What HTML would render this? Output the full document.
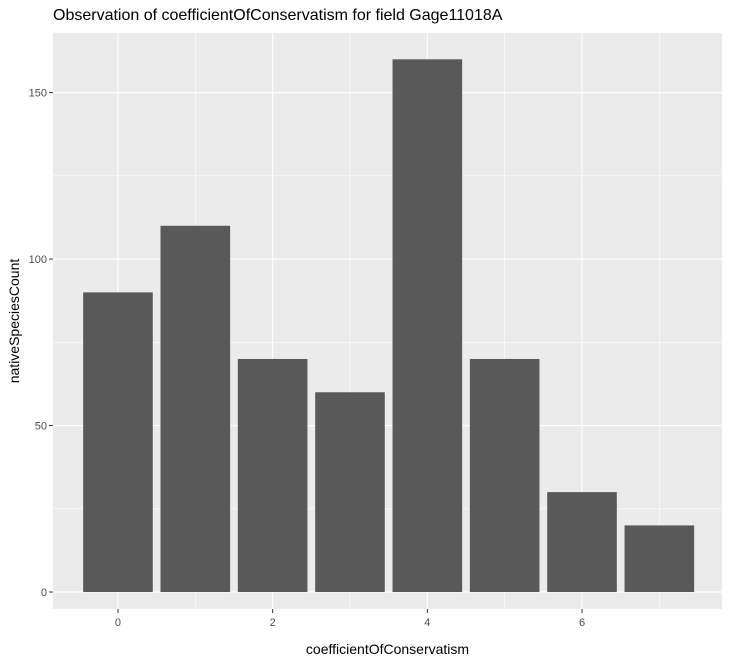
<!DOCTYPE html>
<html><head><meta charset="utf-8"><style>
body{margin:0;background:#fff;font-family:"Liberation Sans",Arial,sans-serif}
</style></head><body>
<svg id="c" width="733" height="664" xmlns="http://www.w3.org/2000/svg"></svg>
<script>
const categories=[0,1,2,3,4,5,6,7];
const values=[90,110,70,60,160,70,30,20];
const xTicks=[0,2,4,6];
const yTicks=[0,50,100,150];
const svg=document.getElementById('c');
const NS='http://www.w3.org/2000/svg';
const L=53,R=722,T=33,B=609;
const xMin=-0.84,xMax=7.81,yMin=-5.1,yMax=167.9;
const x=v=>L+(v-xMin)/(xMax-xMin)*(R-L);
const y=v=>B-(v-yMin)/(yMax-yMin)*(B-T);
function el(t,a,txt){const e=document.createElementNS(NS,t);for(const k in a)e.setAttribute(k,a[k]);if(txt!=null)e.textContent=txt;svg.appendChild(e);return e;}
let p=el('rect',{x:L,y:T,width:R-L,height:B-T,fill:'#EBEBEB'});


for(let v=-0.5+1.5;v<xMax;v+=2){}
[1,3,5,7].forEach(v=>{let g=el('line',{x1:x(v),x2:x(v),y1:T,y2:B,stroke:'#fff','stroke-width':0.6});});
[25,75,125].forEach(v=>{let g=el('line',{x1:L,x2:R,y1:y(v),y2:y(v),stroke:'#fff','stroke-width':0.6});});
xTicks.forEach(v=>{let g=el('line',{x1:x(v),x2:x(v),y1:T,y2:B,stroke:'#fff','stroke-width':1.2});
let t=el('line',{x1:x(v),x2:x(v),y1:B,y2:B+4,stroke:'#333','stroke-width':1});
let l=el('text',{x:x(v),y:B+17,'text-anchor':'middle','font-size':11,fill:'#4D4D4D'},v);});
yTicks.forEach(v=>{let g=el('line',{x1:L,x2:R,y1:y(v),y2:y(v),stroke:'#fff','stroke-width':1.2});
let t=el('line',{x1:L-4,x2:L,y1:y(v),y2:y(v),stroke:'#333','stroke-width':1});
let l=el('text',{x:L-6,y:y(v)+4,'text-anchor':'end','font-size':11,fill:'#4D4D4D'},v);});
categories.forEach((c,i)=>{let b=el('rect',{x:x(c-0.45),y:y(values[i]),width:x(c+0.45)-x(c-0.45),height:y(0)-y(values[i]),fill:'#595959'});

});
let tt=el('text',{x:53,y:20,'font-size':16,fill:'#000'},'Observation of coefficientOfConservatism for field Gage11018A');

let xt=el('text',{x:(L+R)/2,y:654,'text-anchor':'middle','font-size':14,fill:'#000'},'coefficientOfConservatism');

let yt=el('text',{x:0,y:0,'text-anchor':'middle','font-size':14,fill:'#000',transform:`translate(19,${(T+B)/2}) rotate(-90)`},'nativeSpeciesCount');

</script>
</body></html>
